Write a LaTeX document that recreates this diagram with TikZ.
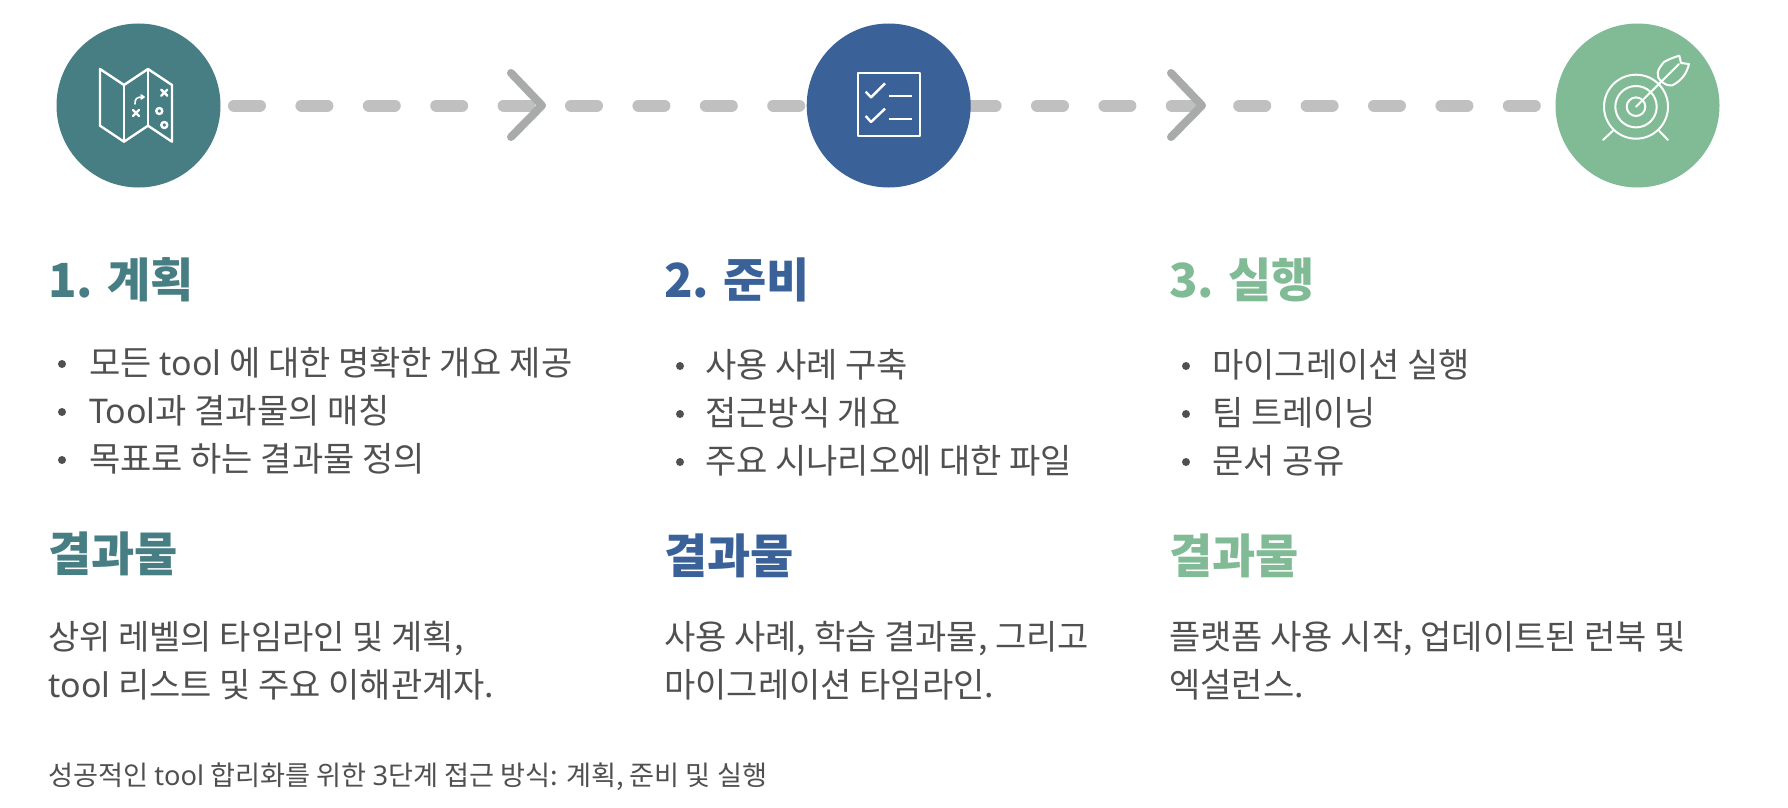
\documentclass[tikz,border=0pt]{standalone}
\usepackage{fontspec}
\setmainfont{Noto Sans CJK KR}
\newfontfamily\latf{Noto Sans}
\definecolor{planc}{HTML}{477E83}
\definecolor{prepc}{HTML}{3A6299}
\definecolor{runc}{HTML}{80BB96}
\definecolor{textc}{HTML}{505050}
\definecolor{dashc}{HTML}{BFC0BF}
\definecolor{chevc}{HTML}{A9ABAA}
\tikzset{
  stepdot/.style={circle,inner sep=0pt,minimum size=164pt},
  dashline/.style={dashc,line width=12pt,line cap=round,dash pattern=on 26pt off 41.4pt},
  chevron/.style={chevc,line width=8pt,line cap=round,line join=round},
  icon/.style={white,line width=2.4pt,line join=round,line cap=round},
  head/.style={anchor=base west,inner sep=0pt,font=\fontsize{47pt}{50pt}\selectfont\bfseries},
  item/.style={anchor=base west,inner sep=0pt,text=textc,font=\fontsize{34pt}{40pt}\selectfont},
  note/.style={anchor=base west,inner sep=0pt,text=textc,font=\fontsize{27.2pt}{32pt}\selectfont},
  bullet/.style={circle,inner sep=0pt,minimum size=8pt,fill=textc},
}
\begin{document}
\begin{tikzpicture}[x=1pt,y=-1pt]
  \useasboundingbox (0,0) rectangle (1788,808);
  % dashes first, the dots sit on top
  \node[stepdot] (plan) at (138.5,105.5) {};
  \node[stepdot] (prep) at (888.7,105.5) {};
  \node[stepdot] (run) at (1637.5,105.5) {};
  \coordinate (tipa) at (542,105.5);
  \coordinate (tipb) at (1202,105.5);
  \draw[dashline] (234,105.5) -- (prep.west);
  \draw[dashline] (969.6,105.5) -- (run.west);
  \draw[chevron] (511,73) -- (tipa) -- (511,137);
  \draw[chevron] (1171,73) -- (tipb) -- (1171,137);
  \node[stepdot,fill=planc] at (plan) {};
  \node[stepdot,fill=prepc] at (prep) {};
  \node[stepdot,fill=runc] at (run) {};
  % map
  \begin{scope}[icon]
    \draw (100,69) -- (124,85) -- (148,69) -- (172,85) -- (172,141.7) -- (148,125.7) -- (124,141.7) -- (100,125.7) -- cycle;
    \draw (124,85) -- (124,141.7) (148,69) -- (148,125.7);
    \draw[line width=1.6pt] (135,104) .. controls (135,99) and (136,97) .. (143,97);
    \draw[line width=1.6pt] (141,95) -- (144,97) -- (141,99);
    \draw (133,110) -- (139,116) (139,110) -- (133,116);
    \draw (161.3,89.7) -- (167.3,95.7) (167.3,89.7) -- (161.3,95.7);
    \draw (159.3,111) circle (3pt) (164.3,125) circle (3pt);
  \end{scope}
  % checklist
  \begin{scope}[icon,line cap=butt]
    \draw (858,73.3) rectangle (920,136);
    \draw (865.7,91.7) -- (871,97.3) -- (885,83.3);
    \draw (865.7,116) -- (871,122) -- (885,108.7);
    \draw (889.3,95.7) -- (911.7,95.7) (889.3,118.7) -- (911.7,118.7);
  \end{scope}
  % target
  \begin{scope}[icon,line width=2pt]
    \draw (1636,106.7) circle (32pt) (1636,106.7) circle (20.7pt) (1636,106.7) circle (9.3pt);
    \draw (1636,106.7) -- (1679,64);
    \draw (1613,130.7) -- (1603,140) (1659,130.7) -- (1668,140);
    \draw (1661.7,81.7) .. controls (1655,76) and (1657,70) .. (1664,62) .. controls (1669,59) and (1675,57) .. (1679.3,55.7) -- (1681,63) -- (1689,64) .. controls (1687,72) and (1683,80) .. (1672,85.5) .. controls (1669,86) and (1666,85) .. (1661.7,81.7) -- cycle;
  \end{scope}
  % first column
  \node[head,text=planc] (planhead) at (48,297) {1. 계획};
  \node[item] (planone) at (89,375) {모든 {\latf tool} 에 대한 명확한 개요 제공};
  \node[item] (plantwo) at (89,423) {{\latf Tool}과 결과물의 매칭};
  \node[item] (planthree) at (89,471) {목표로 하는 결과물 정의};
  \node[head,text=planc] (planres) at (48,571) {결과물};
  \node[item] (plantexta) at (48,649) {상위 레벨의 타임라인 및 계획,};
  \node[item] (plantextb) at (48,697) {{\latf tool} 리스트 및 주요 이해관계자.};
  % second column
  \node[head,text=prepc] (prephead) at (664,297) {2. 준비};
  \node[item] (prepone) at (705,377) {사용 사례 구축};
  \node[item] (preptwo) at (705,425) {접근방식 개요};
  \node[item] (prepthree) at (705,473) {주요 시나리오에 대한 파일};
  \node[head,text=prepc] (prepres) at (664,573) {결과물};
  \node[item] (preptexta) at (664,649) {사용 사례, 학습 결과물, 그리고};
  \node[item] (preptextb) at (664,697) {마이그레이션 타임라인.};
  % third column
  \node[head,text=runc] (runhead) at (1169,297) {3. 실행};
  \node[item] (runone) at (1212,377) {마이그레이션 실행};
  \node[item] (runtwo) at (1212,425) {팀 트레이닝};
  \node[item] (runthree) at (1212,473) {문서 공유};
  \node[head,text=runc] (runres) at (1169,573) {결과물};
  \node[item] (runtexta) at (1169,649) {플랫폼 사용 시작, 업데이트된 런북 및};
  \node[item] (runtextb) at (1169,697) {엑설런스.};
  % bullets
  \foreach \y in {364,412,460} \node[bullet] at (62,\y) {};
  \foreach \y in {366,414,462} \node[bullet] at (680,\y) {};
  \foreach \y in {366,414,462} \node[bullet] at (1186,\y) {};
  \node[note] (caption) at (48,785) {성공적인 {\latf tool} 합리화를 위한 {\latf 3}단계 접근 방식: 계획, 준비 및 실행};
\end{tikzpicture}
\end{document}
